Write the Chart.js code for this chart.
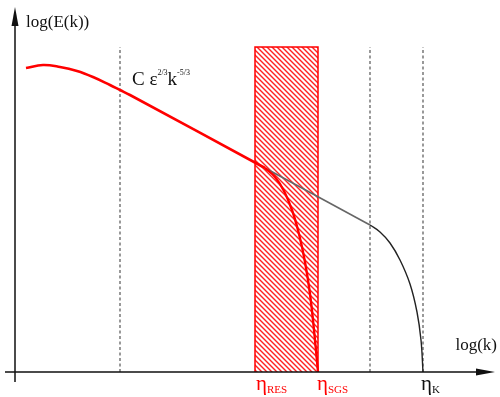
<!DOCTYPE html>
<html>
<head>
<meta charset="utf-8">
<script src="https://cdn.jsdelivr.net/npm/chart.js@4"></script>
<style>
  body { margin: 0; background: #fff; }
  #wrap { width: 500px; height: 397px; }
</style>
</head>
<body>
<div id="wrap"><canvas id="spectrum"></canvas></div>
<script>
// energy spectrum sketch, log(k) vs log(E), arbitrary units
const kLarge = [0.11, 0.28, 0.45, 0.62, 0.78, 0.95, 1.05, 1.15, 2.50];
const eLarge = [3.04, 3.07, 3.05, 3.01, 2.95, 2.87, 2.82, 2.77, 2.04];

const kInertial = [2.50, 3.55];
const eInertial = [2.04, 1.47];

const kDissip = [3.55, 3.65, 3.75, 3.85, 3.95, 4.02, 4.06, 4.08];
const eDissip = [1.47, 1.40, 1.29, 1.12, 0.88, 0.60, 0.32, 0.00];

const kFiltered = [2.50, 2.60, 2.69, 2.77, 2.84, 2.90, 2.95, 2.99, 3.03];
const eFiltered = [2.04, 1.95, 1.81, 1.62, 1.38, 1.10, 0.78, 0.42, 0.00];

const kDashed = [1.05, 3.55, 4.08];
const kRes = 2.40;
const kSgs = 3.03;
const kKolmo = 4.08;
const eTop = 3.25;

const pts = (xs, ys) => xs.map((v, i) => ({ x: v, y: ys[i] }));

// hatch pattern for the filter band
function makeHatch() {
  const c = document.createElement("canvas");
  c.width = 5; c.height = 5;
  const g = c.getContext("2d");
  g.strokeStyle = "#ff2020";
  g.lineWidth = 1.4;
  g.beginPath();
  g.moveTo(-1, -1); g.lineTo(6, 6);
  g.moveTo(-1, 4); g.lineTo(1, 6);
  g.moveTo(4, -1); g.lineTo(6, 1);
  g.stroke();
  return g.createPattern(c, "repeat");
}

const datasets = [
  {
    data: pts(kLarge, eLarge),
    borderColor: "#ff0000", borderWidth: 2.6, tension: 0.4, order: 0
  },
  {
    data: pts(kFiltered, eFiltered),
    borderColor: "#ff0000", borderWidth: 2.4, tension: 0.4, order: 0
  },
  {
    data: pts(kInertial, eInertial),
    borderColor: "#666666", borderWidth: 1.6, order: 1
  },
  {
    data: pts(kDissip, eDissip),
    borderColor: "#222222", borderWidth: 1.4, tension: 0.4, order: 1
  },
];

kDashed.forEach(k => {
  datasets.push({
    data: [{ x: k, y: 0 }, { x: k, y: eTop }],
    borderColor: "#555555", borderWidth: 1.2, borderDash: [3, 2.5], order: 5
  });
});

datasets.push({
  data: [{ x: kRes, y: 0 }, { x: kRes, y: eTop }, { x: kSgs, y: eTop }, { x: kSgs, y: 0 }],
  borderColor: "#ff0000", borderWidth: 1.5,
  backgroundColor: makeHatch(), fill: "origin", order: 10
});

const axesPlugin = {
  id: "axes",
  afterDatasetsDraw(chart) {
    const { ctx, scales: { x, y } } = chart;
    const x0 = x.getPixelForValue(0), y0 = y.getPixelForValue(0);
    const yTip = y.getPixelForValue(3.65), xTip = x.getPixelForValue(4.80);
    ctx.save();
    ctx.strokeStyle = "#111"; ctx.fillStyle = "#111"; ctx.lineWidth = 1.5;
    ctx.beginPath();
    ctx.moveTo(x0, y0 + 10); ctx.lineTo(x0, yTip + 12);
    ctx.moveTo(x0 - 10, y0); ctx.lineTo(xTip - 12, y0);
    ctx.stroke();
    ctx.beginPath();
    ctx.moveTo(x0, yTip); ctx.lineTo(x0 - 3.5, yTip + 19); ctx.lineTo(x0 + 3.5, yTip + 19);
    ctx.closePath(); ctx.fill();
    ctx.beginPath();
    ctx.moveTo(xTip, y0); ctx.lineTo(xTip - 19, y0 - 3.5); ctx.lineTo(xTip - 19, y0 + 3.5);
    ctx.closePath(); ctx.fill();
    ctx.restore();
  }
};

// text runs: [text, size, dy]
function drawRuns(ctx, x, y, runs, color) {
  ctx.fillStyle = color;
  ctx.textBaseline = "alphabetic";
  ctx.textAlign = "left";
  runs.forEach(([t, size, dy]) => {
    ctx.font = size + "px 'Liberation Serif', serif";
    ctx.fillText(t, x, y + dy);
    x += ctx.measureText(t).width;
  });
}

const labelPlugin = {
  id: "labels",
  afterDraw(chart) {
    const { ctx, scales: { x, y } } = chart;
    const x0 = x.getPixelForValue(0), y0 = y.getPixelForValue(0);
    ctx.save();
    drawRuns(ctx, x0 + 11, 27, [["log(E(k))", 17, 0]], "#111");
    ctx.font = "17px 'Liberation Serif', serif";
    ctx.textAlign = "right";
    ctx.fillStyle = "#111";
    ctx.fillText("log(k)", 497, y0 - 22);
    drawRuns(ctx, x.getPixelForValue(1.17), y.getPixelForValue(2.87),
      [["C ", 19, 0], ["ε", 19, 0], ["2/3", 8, -10], ["k", 19, 0], ["-5/3", 8, -10]], "#111");
    const base = y0 + 18;
    drawRuns(ctx, x.getPixelForValue(kRes) + 1, base, [["η", 21, 0], ["RES", 11, 3]], "#ff0000");
    drawRuns(ctx, x.getPixelForValue(kSgs) - 1, base, [["η", 21, 0], ["SGS", 11, 3]], "#ff0000");
    drawRuns(ctx, x.getPixelForValue(kKolmo) - 2, base, [["η", 21, 0], ["K", 11, 3]], "#111");
    ctx.restore();
  }
};

new Chart(document.getElementById("spectrum"), {
  type: "line",
  data: { datasets },
  options: {
    responsive: true,
    maintainAspectRatio: false,
    animation: false,
    layout: { padding: 0 },
    elements: { point: { radius: 0 }, line: { tension: 0 } },
    scales: {
      x: { type: "linear", min: -0.15, max: 4.85, display: false },
      y: { type: "linear", min: -0.25, max: 3.72, display: false },
    },
    plugins: {
      legend: { display: false },
      tooltip: { enabled: false },
    },
  },
  plugins: [axesPlugin, labelPlugin],
});
</script>
</body>
</html>
